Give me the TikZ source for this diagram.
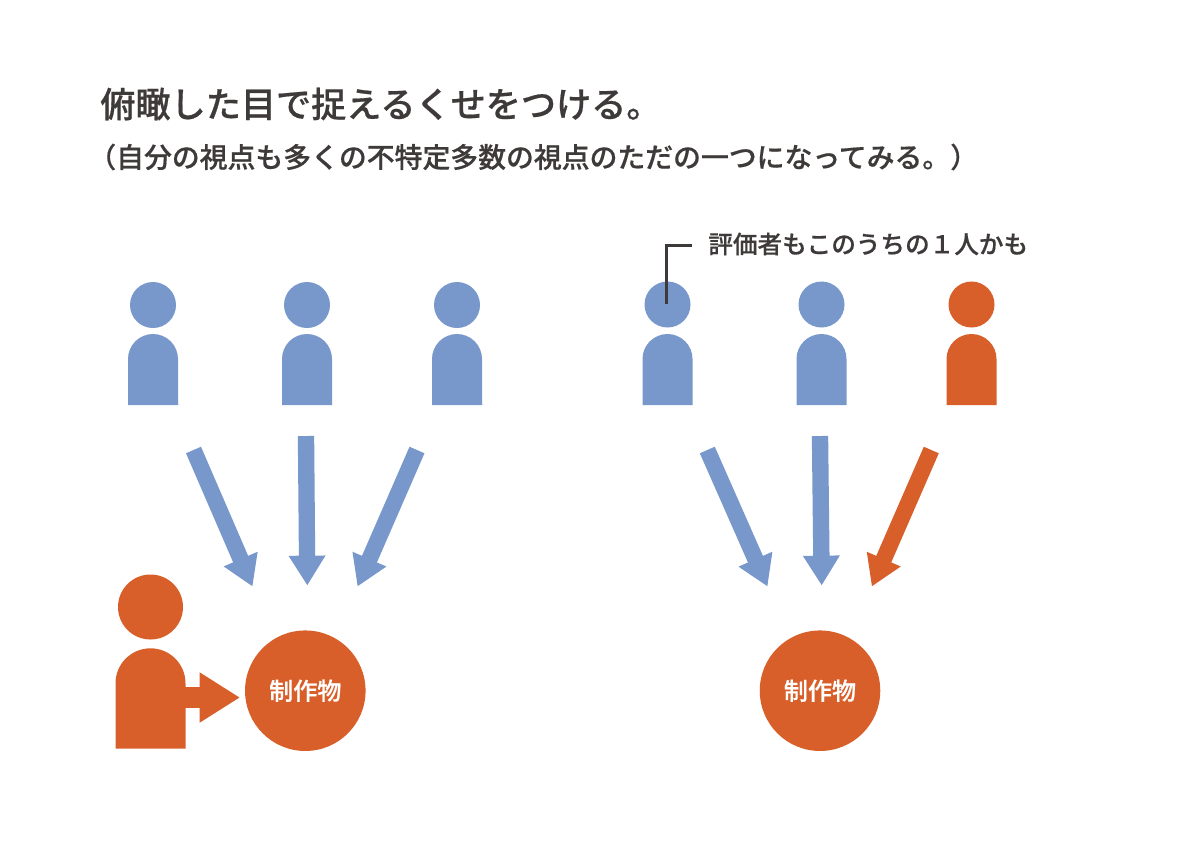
\documentclass[tikz,border=0pt]{standalone}
\usepackage{fontspec}
\usetikzlibrary{arrows.meta}
\newfontfamily\jpfont[FakeBold=0.5]{Noto Sans CJK JP Medium}
\newfontfamily\jpwhite{Noto Sans CJK JP Bold}
\definecolor{bluefig}{HTML}{7898CC}
\definecolor{orangefig}{HTML}{D95F2A}
\definecolor{inkfig}{HTML}{3E3A39}
\newcommand{\figperson}[6]{% cx, head y, head r, body half width, body top, body bottom (+ colour via scope)
  \fill (#1,#2) circle (#3);
  \fill (#1-#4,#6) -- (#1-#4,#5+#4) arc[start angle=180,end angle=360,radius=#4] -- (#1+#4,#6) -- cycle;
}
\tikzset{
  bigarrow/.style={line width=9.3pt,-{Triangle[length=17pt,width=19.8pt]}},
  workcircle/.style={circle,fill=orangefig,minimum size=68.6pt,inner sep=0pt,text=white,font=\jpfont\fontsize{13.7pt}{16pt}\selectfont},
  titletext/.style={anchor=west,inner sep=0pt,text=inkfig,font=\jpfont\fontsize{20pt}{24pt}\selectfont},
  subtext/.style={anchor=west,inner sep=0pt,text=inkfig,font=\jpfont\fontsize{15.85pt}{19pt}\selectfont},
  notetext/.style={anchor=west,inner sep=0pt,text=inkfig,font=\jpfont\fontsize{14pt}{17pt}\selectfont},
}
\begin{document}
\begin{tikzpicture}[x=0.02cm,y=-0.02cm]
\useasboundingbox (0,0) rectangle (1200,850);
\fill[white] (0,0) rectangle (1200,850);
% text
\node[titletext] (title) at (100,104) {俯瞰した目で捉えるくせをつける。};
\node[subtext] (sub) at (88,157) {（自分の視点も多くの不特定多数の視点のただの一つになってみる。）};
\node[notetext] (note) at (708,244) {評価者もこのうちの１人かも};
% people
\begin{scope}[bluefig]
\figperson{153}{305}{23}{25}{334}{405}
\figperson{307}{305}{23}{25}{334}{405}
\figperson{457}{305}{23}{25}{334}{405}
\figperson{667.5}{304.5}{23}{25}{334}{405}
\figperson{821.5}{304.5}{23}{25}{334}{405}
\end{scope}
\begin{scope}[orangefig]
\figperson{971.5}{304.5}{23}{25}{334}{405}
\figperson{150.5}{607}{32.5}{35}{648.3}{748.7}
\end{scope}
% works
\node[workcircle] (work1) at (305.3,690.7) {制作物};
\node[workcircle] (work2) at (820,690.7) {制作物};
% arrow coordinates
\coordinate (a1s) at (193.5,450); \coordinate (a1t) at (252.5,586.5);
\coordinate (a2s) at (306,436);   \coordinate (a2t) at (307.3,585.5);
\coordinate (a3s) at (417,450);   \coordinate (a3t) at (357.5,586.5);
\coordinate (a4s) at (707.3,450); \coordinate (a4t) at (767.5,586.5);
\coordinate (a5s) at (820,436);   \coordinate (a5t) at (821.7,585.5);
\coordinate (a6s) at (931.3,450); \coordinate (a6t) at (871.8,586.5);
\draw[bigarrow,bluefig] (a1s) -- (a1t);
\draw[bigarrow,bluefig] (a2s) -- (a2t);
\draw[bigarrow,bluefig] (a3s) -- (a3t);
\draw[bigarrow,bluefig] (a4s) -- (a4t);
\draw[bigarrow,bluefig] (a5s) -- (a5t);
\draw[bigarrow,orangefig] (a6s) -- (a6t);
% maker arrow
\coordinate (ms) at (180,697.5); \coordinate (mt) at (240,697.5);
\draw[orangefig,line width=12.3pt,-{Triangle[length=23pt,width=27pt]}] (ms) -- (mt);
% leader
\coordinate (l1) at (666.5,304); \coordinate (l2) at (666.5,245); \coordinate (l3) at (692,245);
\draw[inkfig,line width=1.7pt] (l1) -- (l2) -- (l3);
\end{tikzpicture}
\end{document}
